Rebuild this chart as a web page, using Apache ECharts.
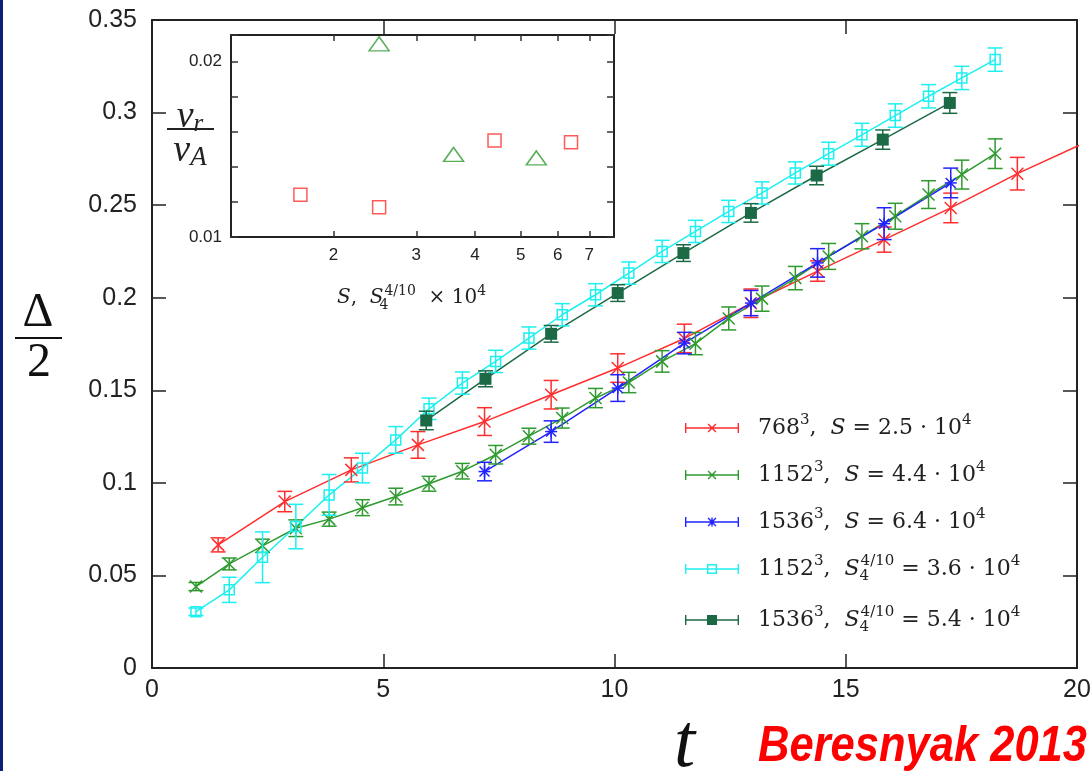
<!DOCTYPE html>
<html><head><meta charset="utf-8">
<script src="https://cdn.jsdelivr.net/npm/echarts@6/dist/echarts.min.js"></script>
<style>html,body{margin:0;padding:0;background:#fff}#c{width:1091px;height:771px}</style>
</head><body><div id="c"></div>
<script>
// ---------------- data ----------------
// 768^3, S = 2.5e4  (red, x markers)
const tRed = [1.43, 2.87, 4.31, 5.75, 7.19, 8.63, 10.07, 11.51, 12.95, 14.39, 15.83, 17.27, 18.71, 20.15];
const vRed = [0.0665, 0.0899, 0.107, 0.1205, 0.1331, 0.1476, 0.162, 0.178, 0.197, 0.2144, 0.2314, 0.2485, 0.267, 0.2835];
const eRed = [0.0038, 0.0055, 0.0065, 0.0072, 0.0075, 0.0077, 0.0077, 0.0077, 0.0077, 0.0055, 0.0068, 0.008, 0.0088, 0.009];
// 1152^3, S = 4.4e4 (green, x markers)
const tGreen = [0.95, 1.67, 2.39, 3.11, 3.83, 4.55, 5.27, 5.99, 6.71, 7.43, 8.15, 8.87, 9.59, 10.31, 11.03, 11.75, 12.47, 13.19, 13.91, 14.63, 15.35, 16.07, 16.79, 17.51, 18.23];
const vGreen = [0.044, 0.0562, 0.066, 0.0755, 0.0804, 0.0866, 0.0926, 0.0995, 0.1063, 0.1152, 0.1252, 0.135, 0.1458, 0.1542, 0.1656, 0.1752, 0.1888, 0.1995, 0.2106, 0.2223, 0.2332, 0.244, 0.2557, 0.2665, 0.2778];
const eGreen = [0.0022, 0.0032, 0.0036, 0.0045, 0.0038, 0.0043, 0.0045, 0.004, 0.0042, 0.005, 0.0043, 0.0054, 0.0052, 0.0055, 0.0058, 0.006, 0.0062, 0.0068, 0.0063, 0.007, 0.0068, 0.007, 0.0075, 0.0078, 0.008];
// 1536^3, S = 6.4e4 (blue, asterisks)
const tBlue = [7.19, 8.63, 10.07, 11.51, 12.95, 14.39, 15.83, 17.27];
const vBlue = [0.1061, 0.1277, 0.1512, 0.1755, 0.1971, 0.2188, 0.24, 0.262];
const eBlue = [0.005, 0.0058, 0.0072, 0.0058, 0.0068, 0.0077, 0.0086, 0.008];
// 1152^3, S4^(4/10) = 3.6e4 (cyan, open squares)
const tCyan = [0.95, 1.67, 2.39, 3.11, 3.83, 4.55, 5.27, 5.99, 6.71, 7.43, 8.15, 8.87, 9.59, 10.31, 11.03, 11.75, 12.47, 13.19, 13.91, 14.63, 15.35, 16.07, 16.79, 17.51, 18.23];
const vCyan = [0.0304, 0.0422, 0.0598, 0.0764, 0.0935, 0.108, 0.1232, 0.14, 0.1539, 0.1656, 0.1782, 0.1908, 0.2016, 0.2133, 0.225, 0.2358, 0.2466, 0.2566, 0.2674, 0.2778, 0.288, 0.2984, 0.3088, 0.3187, 0.3286];
const eCyan = [0.002, 0.0068, 0.0137, 0.012, 0.011, 0.008, 0.0072, 0.0058, 0.006, 0.006, 0.006, 0.006, 0.006, 0.006, 0.006, 0.006, 0.006, 0.006, 0.006, 0.0062, 0.0062, 0.0063, 0.0063, 0.0063, 0.0063];
// 1536^3, S4^(4/10) = 5.4e4 (dark green, filled squares)
const tDark = [5.93, 7.21, 8.63, 10.07, 11.49, 12.95, 14.37, 15.8, 17.25];
const vDark = [0.1337, 0.1562, 0.1805, 0.2025, 0.2241, 0.2458, 0.266, 0.2854, 0.3052];
const eDark = [0.005, 0.0043, 0.0045, 0.0045, 0.0045, 0.005, 0.005, 0.0052, 0.0056];

// inset: v_r / v_A versus S, S4^(4/10) x 1e4
const insetSqX = [1.7, 2.5, 4.4, 6.4];
const insetSqY = [0.0124, 0.0117, 0.0155, 0.0154];
const insetTriX = [2.5, 3.6, 5.4];
const insetTriY = [0.021, 0.0147, 0.0145];
const insetLevel = [0.015];

// tick labels
const mainXTicks = [0, 5, 10, 15, 20];
const mainYTicks = [0, 0.05, 0.1, 0.15, 0.2, 0.25, 0.3, 0.35];
const insetXTicks = [2, 3, 4, 5, 6, 7];
const insetYLabels = [0.01, 0.02];

// ---------------- styling ----------------
const C = {red:'#ff2e2e', green:'#2f9a2f', blue:'#2222ff', cyan:'#1cf0f0', dark:'#1c6a45', axis:'#222'};
const serif = '"Liberation Serif", "DejaVu Serif", serif';
const lserif = '"DejaVu Serif", "Liberation Serif", serif';
const sans = '"Liberation Sans", Arial, sans-serif';
const XMAX = 20;

function pairs(t, v, e) { return t.map((x, i) => e ? [x, v[i], e[i]] : [x, v[i]]); }

function markerShapes(kind, p, color) {
  const out = [];
  const ln = (x1, y1, x2, y2) => out.push({type:'line', shape:{x1, y1, x2, y2}, style:{stroke:color, lineWidth:1.5}});
  const x = p[0], y = p[1];
  if (kind === 'x' || kind === 'star') {
    const s = kind === 'x' ? 6 : 5;
    ln(x - s, y - s, x + s, y + s); ln(x - s, y + s, x + s, y - s);
    if (kind === 'star') { ln(x, y - 6, x, y + 6); ln(x - 6, y, x + 6, y); }
  } else if (kind === 'sq') {
    out.push({type:'rect', shape:{x:x - 5, y:y - 5, width:10, height:10}, style:{stroke:color, fill:'none', lineWidth:1.5}});
  } else if (kind === 'fsq') {
    out.push({type:'rect', shape:{x:x - 6, y:y - 6, width:12, height:12}, style:{fill:color}});
  }
  return out;
}

function errSeries(name, t, v, e, color, kind) {
  const rows = pairs(t, v, e).filter(r => r[0] <= XMAX);
  return {
    type:'custom', name:name + '_err', xAxisIndex:0, yAxisIndex:0, clip:true, z:4,
    data:rows, encode:{x:0, y:1},
    renderItem:(params, api) => {
      const x = api.value(0), y = api.value(1), er = api.value(2);
      const p = api.coord([x, y]);
      const lo = api.coord([x, y - er]), hi = api.coord([x, y + er]);
      const cw = 7.5;
      const st = {stroke:color, lineWidth:1.5};
      const ch = [
        {type:'line', shape:{x1:p[0], y1:lo[1], x2:p[0], y2:hi[1]}, style:st},
        {type:'line', shape:{x1:p[0] - cw, y1:lo[1], x2:p[0] + cw, y2:lo[1]}, style:st},
        {type:'line', shape:{x1:p[0] - cw, y1:hi[1], x2:p[0] + cw, y2:hi[1]}, style:st}
      ].concat(markerShapes(kind, p, color));
      return {type:'group', children:ch};
    }
  };
}
function lineSeries(name, t, v, color) {
  return {type:'line', name, xAxisIndex:0, yAxisIndex:0, data:pairs(t, v), symbol:'none',
          color, lineStyle:{color, width:1.5}, z:3, clip:true};
}

// legend icons: line with end caps and the marker in the middle
const base = 'M0,6.3H54V7.7H0Z M0,2H1.4V12H0Z M52.6,2H54V12H52.6Z ';
const xm = 'M22.6,3.6L23.6,2.6L31.4,10.4L30.4,11.4Z M30.4,2.6L31.4,3.6L23.6,11.4L22.6,10.4Z ';
const icons = {
  x: 'path://' + base + xm,
  star: 'path://' + base + xm + 'M26.3,2.6H27.7V11.4H26.3Z',
  sq: 'path://' + base + 'M22,2H32V12H22Z M23.4,3.4V10.6H30.6V3.4Z',
  fsq: 'path://' + base + 'M22,2H32V12H22Z'
};
const legendLabels = {
  r768: '{n|768}{sp|3}{n|,  }{i|S}{n| = 2.5 · 10}{sp|4}',
  g1152: '{n|1152}{sp|3}{n|,  }{i|S}{n| = 4.4 · 10}{sp|4}',
  b1536: '{n|1536}{sp|3}{n|,  }{i|S}{n| = 6.4 · 10}{sp|4}',
  c1152: '{n|1152}{sp|3}{n|,  }{i|S}{sb|4}{sp|4/10}{n| = 3.6 · 10}{sp|4}',
  d1536: '{n|1536}{sp|3}{n|,  }{i|S}{sb|4}{sp|4/10}{n| = 5.4 · 10}{sp|4}'
};
const rich = {
  n:{fontFamily:lserif, fontSize:22, lineHeight:30, color:'#222'},
  i:{fontFamily:lserif, fontSize:22, lineHeight:30, fontStyle:'italic', color:'#222'},
  sp:{fontFamily:lserif, fontSize:15, lineHeight:17, verticalAlign:'top', color:'#222'},
  sb:{fontFamily:lserif, fontSize:15, lineHeight:17, verticalAlign:'bottom', width:1, color:'#222'}
};

const axisLine = {show:true, onZero:false, lineStyle:{color:C.axis, width:2}};
function near(v, list) { return list.some(a => Math.abs(a - v) < 1e-9); }
const mainTick = {inside:true, length:14, lineStyle:{color:C.axis, width:1.5}};
const insetTick = {inside:true, length:7, lineStyle:{color:'#333', width:1.5}};

const option = {
  backgroundColor:'#fff',
  animation:false,
  grid:[
    {left:152, top:20, width:925, height:648, show:false, outerBoundsMode:'none', containLabel:false},
    {left:231, top:35, width:383, height:202, show:true, backgroundColor:'#fff', borderWidth:0, z:5,
     outerBoundsMode:'none', containLabel:false}
  ],
  xAxis:[
    {type:'value', gridIndex:0, min:0, max:XMAX, interval:5, position:'bottom', axisLine,
     axisTick:mainTick, splitLine:{show:false},
     axisLabel:{fontFamily:sans, fontSize:25, color:'#222', margin:10,
                formatter:v => near(v, mainXTicks) ? String(v) : ''},
     name:'t', nameLocation:'middle', nameGap:19,
     nameTextStyle:{fontFamily:serif, fontStyle:'italic', fontSize:76, color:'#111', padding:[0,0,0,140]}},
    {type:'value', gridIndex:0, min:0, max:XMAX, interval:5, position:'top', axisLine,
     axisTick:mainTick, axisLabel:{show:false}, splitLine:{show:false}},
    {type:'log', gridIndex:1, min:1.21, max:7.9, position:'bottom', axisLine, z:6,
     axisTick:Object.assign({customValues:insetXTicks}, insetTick, {length:6}),
     axisLabel:{fontFamily:sans, fontSize:17, color:'#222', margin:10, customValues:insetXTicks},
     splitLine:{show:false}, minorTick:{show:false},
     name:'{i|S}{n|,  }{i|S}{sb|4}{sp|4/10}{n|  × 10}{sp|4}', nameLocation:'middle', nameGap:47,
     nameTextStyle:{padding:[0,22,0,0], rich:{
       n:{fontFamily:lserif, fontSize:20, lineHeight:28, color:'#222'},
       i:{fontFamily:lserif, fontSize:20, lineHeight:28, fontStyle:'italic', color:'#222'},
       sp:{fontFamily:lserif, fontSize:14, lineHeight:15, verticalAlign:'top', color:'#222'},
       sb:{fontFamily:lserif, fontSize:14, lineHeight:15, verticalAlign:'bottom', width:1, color:'#222'}}}},
    {type:'log', gridIndex:1, min:1.21, max:7.9, position:'top', axisLine, z:6,
     axisTick:Object.assign({customValues:insetXTicks}, insetTick, {length:6}),
     axisLabel:{show:false}, splitLine:{show:false}}
  ],
  yAxis:[
    {type:'value', gridIndex:0, min:0, max:0.35, interval:0.05, position:'left', axisLine,
     axisTick:mainTick, splitLine:{show:false},
     axisLabel:{fontFamily:sans, fontSize:25, color:'#222', margin:15,
                formatter:v => near(v, mainYTicks) ? String(+v.toFixed(2)) : ''}},
    {type:'value', gridIndex:0, min:0, max:0.35, interval:0.05, position:'right', axisLine,
     axisTick:mainTick, axisLabel:{show:false}, splitLine:{show:false}},
    {type:'value', gridIndex:1, min:0.01, max:0.0215, interval:0.002, position:'left', axisLine, z:6,
     axisTick:insetTick, splitLine:{show:false},
     axisLabel:{fontFamily:sans, fontSize:17, color:'#222', margin:9,
                formatter:v => near(v, insetYLabels) ? String(+v.toFixed(3)) : ''}},
    {type:'value', gridIndex:1, min:0.01, max:0.0215, interval:0.002, position:'right', axisLine, z:6,
     axisTick:insetTick, axisLabel:{show:false}, splitLine:{show:false}}
  ],
  legend:{
    orient:'vertical', left:680, top:408, itemWidth:54, itemHeight:14, itemGap:21, selectedMode:false,
    itemStyle:{borderWidth:0},
    data:[
      {name:'r768', icon:icons.x}, {name:'g1152', icon:icons.x}, {name:'b1536', icon:icons.star},
      {name:'c1152', icon:icons.sq}, {name:'d1536', icon:icons.fsq}
    ],
    formatter:name => legendLabels[name],
    textStyle:{padding:[0,0,0,14], rich}
  },
  graphic:[
    {type:'rect', left:0, top:0, shape:{width:3, height:771}, style:{fill:'#0c1f78'}, silent:true},
    {type:'text', x:38, y:313, style:{text:'Δ', font:'48px ' + serif, fill:'#111', align:'center', verticalAlign:'middle'}},
    {type:'line', shape:{x1:15, y1:338, x2:62, y2:338}, style:{stroke:'#111', lineWidth:2}},
    {type:'text', x:39, y:363, style:{text:'2', font:'48px ' + serif, fill:'#111', align:'center', verticalAlign:'middle'}},
    {type:'text', x:190, y:117, z:100, style:{text:'{v|v}{s|r}', align:'center', verticalAlign:'middle',
      rich:{v:{fontFamily:serif, fontStyle:'italic', fontSize:38, lineHeight:40, fill:'#222'},
            s:{fontFamily:serif, fontStyle:'italic', fontSize:25, lineHeight:24, verticalAlign:'bottom', fill:'#222'}}}},
    {type:'line', z:100, shape:{x1:167, y1:129, x2:214, y2:129}, style:{stroke:'#222', lineWidth:2}},
    {type:'text', x:190, y:151, z:100, style:{text:'{v|v}{s|A}', align:'center', verticalAlign:'middle',
      rich:{v:{fontFamily:serif, fontStyle:'italic', fontSize:38, lineHeight:40, fill:'#222'},
            s:{fontFamily:serif, fontStyle:'italic', fontSize:27, lineHeight:24, verticalAlign:'bottom', fill:'#222'}}}},
    {type:'text', x:1087, y:772, scaleX:0.87, style:{text:'Beresnyak 2013', font:'italic bold 50px "Liberation Sans", Arial',
      fill:'#ff0000', align:'right', verticalAlign:'bottom'}}
  ],
  series:[
    lineSeries('r768', tRed, vRed, C.red),
    lineSeries('g1152', tGreen, vGreen, C.green),
    lineSeries('b1536', tBlue, vBlue, C.blue),
    lineSeries('c1152', tCyan, vCyan, C.cyan),
    lineSeries('d1536', tDark, vDark, C.dark),
    errSeries('r768', tRed, vRed, eRed, C.red, 'x'),
    errSeries('g1152', tGreen, vGreen, eGreen, C.green, 'x'),
    errSeries('c1152', tCyan, vCyan, eCyan, C.cyan, 'sq'),
    errSeries('d1536', tDark, vDark, eDark, C.dark, 'fsq'),
    errSeries('b1536', tBlue, vBlue, eBlue, C.blue, 'star'),
    {type:'scatter', name:'insetSq', xAxisIndex:2, yAxisIndex:2, z:7, data:pairs(insetSqX, insetSqY),
     symbol:'rect', symbolSize:13, itemStyle:{color:'none', borderColor:'#ff3030', borderWidth:1.5},
     markLine:{silent:true, symbol:'none', label:{show:false}, animation:false,
       lineStyle:{color:'#3b3bff', width:1.5, type:'solid'}, data:insetLevel.map(v => ({yAxis:v}))}},
    {type:'scatter', name:'insetTri', xAxisIndex:2, yAxisIndex:2, z:7, data:pairs(insetTriX, insetTriY),
     symbol:'triangle', symbolSize:[20, 14], itemStyle:{color:'none', borderColor:'#2f9a2f', borderWidth:1.5}}
  ]
};
const chart = echarts.init(document.getElementById('c'), null, {renderer:'canvas'});
chart.setOption(option);
</script></body></html>
